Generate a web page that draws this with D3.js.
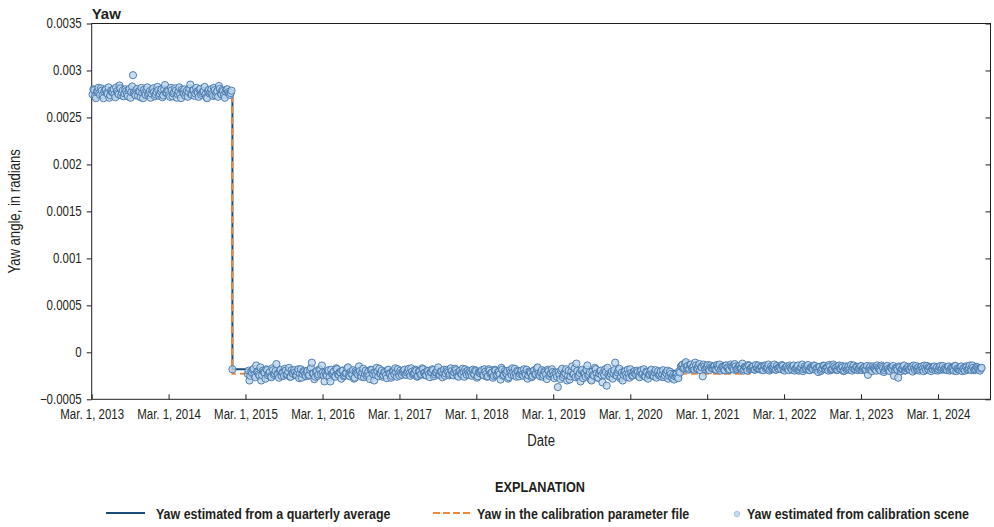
<!DOCTYPE html>
<html>
<head>
<meta charset="utf-8">
<script src="https://d3js.org/d3.v7.min.js"></script>
<style>
  body { margin: 0; background: #fff; }
  text { font-family: "Liberation Sans", Arial, sans-serif; fill: #231f20; }
</style>
</head>
<body>
<svg id="chart" width="994" height="527"></svg>
<script>
// values in micro-radians (1e-6 rad)
var yTicks = [-0.0005, 0, 0.0005, 0.001, 0.0015, 0.002, 0.0025, 0.003, 0.0035];
var yTickLabels = ["\u22120.0005", "0", "0.0005", "0.001", "0.0015", "0.002", "0.0025", "0.003", "0.0035"];
var xTickYears = [2013, 2014, 2015, 2016, 2017, 2018, 2019, 2020, 2021, 2022, 2023, 2024];

var sceneStepDays = 8;

// first scene of each 8-day window
var preStepStart = "2013-03-05";
var preStepYaw = [
  2745, 2790, 2705, 2780, 2760, 2810, 2735, 2775, 2800, 2750,
  2710, 2785, 2770, 2745, 2820, 2760, 2840, 2735, 2790, 2755,
  2780, 2725, 2805, 2770, 2950, 2750, 2790, 2730, 2775, 2815,
  2705, 2760, 2795, 2740, 2780, 2755, 2810, 2725, 2770, 2790,
  2750, 2800, 2735, 2845, 2765, 2780, 2720, 2790, 2755, 2810,
  2710, 2775, 2745, 2795, 2760, 2730, 2785, 2770, 2850, 2740,
  2790, 2755, 2775, 2720, 2805, 2760, 2780, 2745, 2705, 2795,
  2770, 2750, 2815, 2735, 2780, 2835, 2760, 2790, 2740, 2775,
  2800, 2755, 2760
];
// second scene, 4 days later
var preStepStart2 = "2013-03-09";
var preStepYaw2 = [
  2800, 2725, 2770, 2815, 2740, 2785, 2705, 2795, 2760, 2820,
  2735, 2770, 2800, 2715, 2780, 2745, 2810, 2760, 2725, 2800,
  2750, 2790, 2710, 2830, 2765, 2735, 2805, 2780, 2715, 2760,
  2795, 2740, 2820, 2755, 2710, 2790, 2770, 2745, 2825, 2730,
  2780, 2715, 2800, 2760, 2790, 2740, 2815, 2725, 2770, 2785,
  2750, 2820, 2705, 2775, 2800, 2760, 2720, 2810, 2745, 2790,
  2730, 2815, 2760, 2795, 2740, 2775, 2825, 2715, 2780, 2755,
  2800, 2730, 2790, 2765, 2720, 2805, 2745, 2780, 2710, 2795,
  2770, 2740, 2785
];

var transitionDate = "2014-12-29";
var transitionYaw = -180;

var postStepStart = "2015-03-12";
var postStepYaw = [
  // Mar 2015 - Mar 2016
  -230, -300, -205, -185, -240, -140, -215, -250, -300, -195,
  -220, -180, -245, -210, -265, -190, -225, -125, -235, -200,
  -250, -215, -175, -240, -205, -260, -190, -230, -215, -245,
  -180, -225, -270, -200, -235, -210, -250, -185, -110, -225,
  -260, -200, -235, -190, -140, -245,
  // 2016 - 2017
  -215, -250, -190, -310, -230, -205, -260, -180, -240, -215,
  -195, -255, -225, -170, -245, -210, -235, -280, -200, -225,
  -150, -240, -215, -265, -195, -230, -250, -185, -220, -300,
  -240, -205, -175, -230, -260, -210, -245, -190, -225, -270,
  -200, -235, -215, -180, -250, -220,
  // 2017 - 2018
  -210, -185, -240, -200, -225, -170, -235, -215, -195, -250,
  -205, -230, -180, -220, -245, -200, -265, -210, -190, -235,
  -215, -160, -240, -205, -225, -250, -185, -215, -230, -200,
  -245, -175, -220, -260, -195, -235, -210, -180, -240, -215,
  -200, -250, -225, -190, -270, -210,
  // 2018 - 2019
  -225, -190, -245, -205, -260, -180, -230, -215, -250, -195,
  -235, -210, -290, -185, -240, -220, -200, -265, -215, -170,
  -245, -225, -195, -255, -210, -235, -180, -240, -280, -205,
  -220, -250, -190, -230, -160, -245, -215, -260, -200, -235,
  -185, -250, -225, -210, -275, -230,
  // 2019 - 2020
  -370, -240, -195, -265, -215, -180, -250, -290, -205, -235,
  -170, -120, -260, -220, -195, -275, -230, -185, -250, -210,
  -300, -240, -165, -225, -270, -200, -245, -215, -180, -355,
  -235, -260, -205, -225, -110, -250, -190, -275, -215, -240,
  -200, -265, -230, -180, -250, -215,
  // 2020 - 2021
  -225, -195, -250, -210, -235, -180, -260, -215, -240, -200,
  -230, -255, -190, -220, -245, -205, -235, -265, -215, -195,
  -250, -230, -275, -290, -240, -260, -200, -150, -130, -165,
  -105, -145, -175, -130, -160, -185, -140, -170, -125, -155,
  -255, -150, -165, -135, -190, -160,
  // 2021 - 2022
  -170, -145, -185, -155, -130, -175, -160, -190, -140, -165,
  -180, -150, -170, -125, -185, -160, -145, -175, -195, -155,
  -165, -135, -180, -160, -150, -185, -170, -140, -175, -160,
  -190, -150, -165, -130, -180, -170, -155, -185, -145, -175,
  -160, -135, -180, -165, -150, -190,
  // 2022 - 2023
  -160, -185, -140, -175, -155, -195, -165, -130, -180, -170,
  -150, -190, -160, -175, -140, -185, -165, -155, -200, -170,
  -145, -180, -160, -135, -190, -175, -150, -165, -185, -140,
  -175, -160, -195, -150, -170, -185, -135, -165, -180, -155,
  -190, -170, -145, -175, -160, -185,
  // 2023 - 2024
  -240, -165, -185, -150, -175, -195, -160, -180, -140, -170,
  -190, -155, -175, -200, -165, -145, -185, -170, -270, -160,
  -180, -150, -195, -170, -155, -185, -165, -140, -190, -175,
  -160, -180, -150, -200, -170, -145, -185, -165, -175, -155,
  -190, -160, -180, -145, -170, -185,
  // 2024
  -165, -190, -150, -180, -170, -195, -145, -175, -185, -160,
  -200, -170, -150, -185, -165, -180, -140, -190, -175, -160,
  -185, -170
];

var postStepStart2 = "2015-03-16";
var postStepYaw2 = [
  // Mar 2015 - Mar 2016
  -195, -250, -220, -175, -265, -205, -235, -160, -245, -210,
  -280, -190, -225, -255, -170, -240, -200, -230, -270, -185,
  -215, -250, -195, -235, -165, -260, -220, -190, -245, -205,
  -275, -180, -230, -210, -255, -195, -240, -165, -225, -285,
  -205, -250, -180, -230, -215, -310,
  // 2016 - 2017
  -240, -200, -265, -185, -225, -250, -170, -235, -210, -280,
  -195, -245, -220, -160, -255, -230, -190, -270, -215, -240,
  -200, -260, -175, -230, -250, -205, -285, -190, -235, -215,
  -165, -255, -225, -195, -245, -210, -275, -185, -230, -250,
  -205, -170, -260, -225, -195, -240,
  // 2017 - 2018
  -195, -235, -215, -175, -250, -205, -225, -185, -260, -200,
  -240, -170, -220, -245, -195, -230, -210, -180, -255, -215,
  -190, -240, -205, -265, -185, -225, -200, -245, -170, -235,
  -215, -190, -250, -205, -230, -175, -260, -210, -195, -240,
  -220, -185, -235, -200, -255, -215,
  // 2018 - 2019
  -205, -240, -180, -230, -255, -195, -220, -270, -185, -245,
  -210, -235, -165, -250, -200, -225, -280, -190, -240, -215,
  -175, -260, -205, -230, -195, -250, -220, -185, -245, -210,
  -265, -200, -235, -175, -225, -255, -190, -240, -210, -285,
  -200, -230, -180, -245, -215, -260,
  // 2019 - 2020
  -210, -285, -175, -240, -225, -300, -195, -255, -150, -230,
  -265, -200, -245, -310, -185, -220, -260, -140, -235, -290,
  -205, -250, -180, -270, -225, -195, -320, -240, -210, -165,
  -255, -230, -280, -190, -245, -215, -175, -260, -300, -205,
  -235, -185, -270, -220, -245, -200,
  // 2020 - 2021
  -240, -210, -265, -190, -225, -255, -205, -280, -230, -185,
  -250, -215, -270, -200, -235, -260, -190, -245, -225, -280,
  -205, -265, -240, -255, -230, -275, -215, -140, -175, -120,
  -160, -185, -135, -170, -150, -110, -175, -145, -190, -160,
  -130, -180, -155, -175, -140, -170,
  // 2021 - 2022
  -150, -180, -135, -170, -195, -155, -175, -140, -165, -190,
  -130, -160, -185, -150, -175, -145, -170, -120, -180, -160,
  -195, -145, -170, -155, -185, -135, -165, -180, -150, -190,
  -140, -175, -160, -195, -150, -165, -130, -185, -170, -155,
  -180, -145, -195, -160, -175, -140,
  // 2022 - 2023
  -175, -150, -195, -165, -140, -185, -160, -200, -150, -175,
  -135, -190, -165, -180, -145, -170, -210, -155, -185, -140,
  -175, -160, -195, -150, -180, -130, -170, -190, -155, -175,
  -145, -200, -165, -185, -150, -170, -195, -140, -180, -160,
  -175, -150, -190, -165, -185, -145,
  // 2023 - 2024
  -180, -150, -200, -165, -185, -140, -175, -195, -155, -210,
  -170, -145, -190, -160, -180, -250, -165, -185, -150, -200,
  -175, -140, -190, -165, -180, -155, -205, -170, -145, -185,
  -195, -160, -175, -140, -190, -170, -155, -200, -180, -150,
  -170, -195, -160, -185, -145, -175,
  // 2024
  -180, -155, -195, -165, -175, -145, -200, -170, -185, -150,
  -175, -195, -160, -180, -140, -190, -165, -185, -155, -175,
  -195, -165
];

var quarterStart = [
  "2013-03-01", "2013-06-01", "2013-09-01", "2013-12-01", "2014-03-01", "2014-06-01", "2014-09-01",
  "2014-12-29", "2015-03-12", "2015-06-01", "2015-09-01", "2015-12-01",
  "2016-03-01", "2016-06-01", "2016-09-01", "2016-12-01",
  "2017-03-01", "2017-06-01", "2017-09-01", "2017-12-01",
  "2018-03-01", "2018-06-01", "2018-09-01", "2018-12-01",
  "2019-03-01", "2019-06-01", "2019-09-01", "2019-12-01",
  "2020-03-01", "2020-06-01", "2020-09-01", "2020-12-01",
  "2021-03-01", "2021-06-01", "2021-09-01", "2021-12-01",
  "2022-03-01", "2022-06-01", "2022-09-01", "2022-12-01",
  "2023-03-01", "2023-06-01", "2023-09-01", "2023-12-01",
  "2024-03-01", "2024-06-01", "2024-09-20"
];
var quarterYaw = [
  2765, 2785, 2770, 2772, 2768, 2775, 2770,
  -180, -215, -222, -212, -220,
  -225, -218, -222, -215,
  -210, -208, -212, -215,
  -220, -218, -213, -220,
  -228, -225, -222, -224,
  -222, -230, -195, -160,
  -165, -162, -166, -168,
  -170, -168, -172, -170,
  -178, -175, -172, -174,
  -172, -175, -175
];

var calStart = ["2013-03-01", "2014-12-29", "2021-09-18", "2024-09-20"];
var calYaw = [2760, -229, -170, -170];

var legendLabels = ["Yaw estimated from a quarterly average", "Yaw in the calibration parameter file", "Yaw estimated from calibration scene"];

var svg = d3.select("#chart"),
    width = +svg.attr("width"),
    height = +svg.attr("height");

var plotLeft = 91.7, plotRight = 990.5, plotTop = 23.5, plotBottom = 399.3;
var squeeze = 0.82; // narrow face look
var parse = d3.timeParse("%Y-%m-%d");
var micro = 1e-6;

var x = d3.scaleTime()
  .domain([parse("2013-03-01"), parse("2024-11-05")])
  .range([plotLeft, plotRight]);

var y = d3.scaleLinear()
  .domain([-0.0005, 0.0035])
  .range([plotBottom, plotTop]);

var scenes = [];
function addScenes(start, values) {
  values.forEach(function(v, i) {
    scenes.push({date: d3.timeDay.offset(parse(start), i * sceneStepDays), yaw: v * micro});
  });
}
addScenes(preStepStart, preStepYaw);
addScenes(preStepStart2, preStepYaw2);
scenes.push({date: parse(transitionDate), yaw: transitionYaw * micro});
addScenes(postStepStart, postStepYaw);
addScenes(postStepStart2, postStepYaw2);
scenes.sort(function(a, b) { return a.date - b.date; });

var quarterly = quarterStart.map(function(d, i) { return {date: parse(d), yaw: quarterYaw[i] * micro}; });
var calib = calStart.map(function(d, i) { return {date: parse(d), yaw: calYaw[i] * micro}; });

var step = d3.line()
  .x(function(d) { return x(d.date); })
  .y(function(d) { return y(d.yaw); })
  .curve(d3.curveStepAfter);

function narrowText(parent, px, py, extra) {
  return parent.append("text")
    .attr("transform", "translate(" + px + "," + py + ")" + (extra || "") + " scale(" + squeeze + ",1)");
}

// axes
svg.append("g")
  .attr("transform", "translate(" + plotLeft + ",0)")
  .call(d3.axisLeft(y).tickValues(yTicks).tickSize(5)
    .tickFormat(function(d, i) { return yTickLabels[i]; }))
  .call(function(g) { g.select(".domain").remove(); })
  .selectAll("text")
    .attr("x", -10 / squeeze)
    .attr("transform", "scale(" + squeeze + ",1)")
    .style("font-size", "14px").style("font-family", "'Liberation Sans', Arial, sans-serif")
    .attr("fill", "#231f20");

svg.append("g")
  .attr("transform", "translate(" + plotRight + ",0)")
  .call(d3.axisRight(y).tickValues(yTicks).tickSize(-5).tickFormat(""))
  .call(function(g) { g.select(".domain").remove(); });

svg.append("g")
  .attr("transform", "translate(0," + plotBottom + ")")
  .call(d3.axisBottom(x).tickValues(xTickYears.map(function(yr) { return new Date(yr, 2, 1); }))
    .tickSize(-5).tickPadding(10)
    .tickFormat(function(d) { return "Mar. 1, " + d.getFullYear(); }))
  .call(function(g) { g.select(".domain").remove(); })
  .selectAll("text")
    .attr("transform", "scale(" + squeeze + ",1)")
    .style("font-size", "14px").style("font-family", "'Liberation Sans', Arial, sans-serif")
    .attr("fill", "#231f20");

svg.selectAll(".tick line").attr("stroke", "#231f20");

svg.append("rect")
  .attr("x", plotLeft).attr("y", plotTop)
  .attr("width", plotRight - plotLeft).attr("height", plotBottom - plotTop)
  .attr("fill", "none").attr("stroke", "#231f20").attr("stroke-width", 1);

// lines
svg.append("path")
  .datum(quarterly)
  .attr("d", step)
  .attr("fill", "none")
  .attr("stroke", "#1b4a78")
  .attr("stroke-width", 2);

svg.append("path")
  .datum(calib)
  .attr("d", step)
  .attr("fill", "none")
  .attr("stroke", "#f0883a")
  .attr("stroke-width", 2)
  .attr("stroke-dasharray", "7,4");

svg.append("g")
  .selectAll("circle")
  .data(scenes)
  .enter()
  .append("circle")
  .attr("cx", function(d) { return x(d.date); })
  .attr("cy", function(d) { return y(d.yaw); })
  .attr("r", 3.6)
  .attr("fill", "#bcd4ec")
  .attr("fill-opacity", 0.8)
  .attr("stroke", "#4274a9")
  .attr("stroke-width", 0.9);

// titles
svg.append("text")
  .attr("x", plotLeft).attr("y", 19)
  .style("font-weight", "bold").style("font-size", "15px")
  .text("Yaw");

narrowText(svg, 20, (plotTop + plotBottom) / 2, " rotate(-90)")
  .attr("text-anchor", "middle")
  .style("font-size", "16px")
  .text("Yaw angle, in radians");

narrowText(svg, (plotLeft + plotRight) / 2, 446)
  .attr("text-anchor", "middle")
  .style("font-size", "16px")
  .text("Date");

// legend
narrowText(svg, 540, 492)
  .attr("text-anchor", "middle")
  .style("font-weight", "bold").style("font-size", "15.5px")
  .text("EXPLANATION");

var lg = svg.append("g").style("font-weight", "bold").style("font-size", "15.2px");

lg.append("line")
  .attr("x1", 106).attr("x2", 145).attr("y1", 513).attr("y2", 513)
  .attr("stroke", "#1b4a78").attr("stroke-width", 2);
narrowText(lg, 156, 519).text(legendLabels[0]);

lg.append("line")
  .attr("x1", 433).attr("x2", 470).attr("y1", 513).attr("y2", 513)
  .attr("stroke", "#f0883a").attr("stroke-width", 2)
  .attr("stroke-dasharray", "7,3");
narrowText(lg, 477, 519).text(legendLabels[1]);

lg.append("circle")
  .attr("cx", 737).attr("cy", 514).attr("r", 2.8)
  .attr("fill", "#c6dbef").attr("stroke", "#9dbcd9").attr("stroke-width", 0.8);
narrowText(lg, 747, 519).text(legendLabels[2]);
</script>
</body>
</html>
